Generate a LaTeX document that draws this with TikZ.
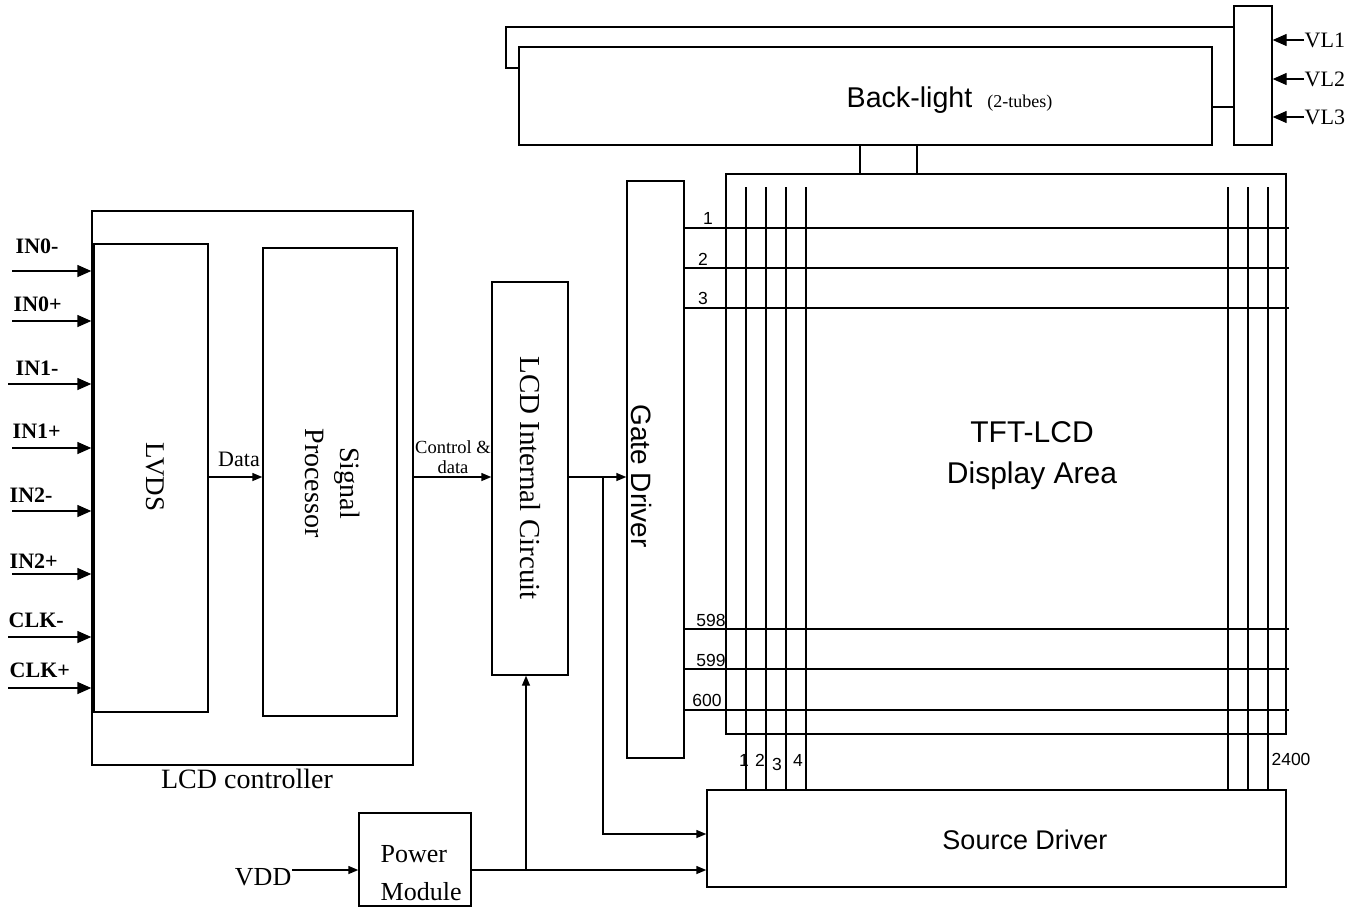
\documentclass[tikz,border=0pt]{standalone}
\usepackage{fontspec}
\setmainfont{Liberation Serif}
\setsansfont{Liberation Sans}
\usetikzlibrary{positioning, arrows.meta, fit}
\newcommand{\fsz}[2]{\fontsize{#1}{#2}\selectfont}

\begin{document}
\begin{tikzpicture}[
    x=0.5pt, y=-0.5pt,
    line width=0.7pt,
    block/.style={draw, inner sep=0pt, line width=0.7pt},
    sflbl/.style={font=\sffamily\fsz{14}{17}, inner sep=0pt, align=center},
    serlbl/.style={font=\fsz{14}{17.5}, inner sep=0pt, align=center},
    num/.style={font=\sffamily\fsz{8.75}{10}, inner sep=0pt},
    inlbl/.style={font=\bfseries\fsz{11}{13}, inner sep=0pt, anchor=base west},
    arr/.style={draw, -{Triangle[length=5pt,width=4pt]}},
    bigarr/.style={draw, -{Triangle[length=7pt,width=6pt]}},
]
\useasboundingbox (0,0) rectangle (1367,907);

% --- LCD controller ---
\node[block, fit={(92,211) (413,765)}] (ctrl) {};
\node[block, fit={(94,244) (208,712)}] (lvds) {};
\node[block, fit={(263,248) (397,716)}] (sigp) {};
\node[serlbl, rotate=-90, font=\fsz{13.5}{16}] (lvdstxt) at (155,477) {LVDS};
\node[serlbl, rotate=-90] (sigptxt) at (333,483) {Signal\\Processor};
\node[serlbl, anchor=base] (ctrltxt) at (247,788) {LCD controller};

% Inputs (left)
\foreach \name/\ay/\by/\lx/\sx in {IN0-/271/253/15/12, IN0+/321/311/13/12,
    IN1-/384/375/15/8, IN1+/448/438/12/12, IN2-/511/502/9/12,
    IN2+/574/568/9/12, CLK-/637/627/8/8, CLK+/688/677/9/8}{
  \coordinate (in\name) at (\sx,\ay);
  \node[inlbl] (lbl\name) at (\lx,\by) {\name};
  \draw[bigarr] (in\name) -- (ctrl.west |- in\name);
}

% --- Middle blocks ---
\coordinate (busy) at (0,477);
\node[block, fit={(492,282) (568,675)}] (lic) {};
\node[serlbl, rotate=-90, font=\fsz{14.5}{17}] (lictxt) at (530,478) {LCD Internal Circuit};
\node[block, fit={(627,181) (684,758)}] (gate) {};
\node[sflbl, rotate=-90] (gatetxt) at (642,476) {Gate Driver};

\draw[arr] (lvds.east |- busy) -- (sigp.west |- busy);
\node[serlbl, anchor=base, font=\fsz{11}{13}] (datatxt) at (239,466) {Data};
\draw[arr] (ctrl.east |- busy) -- (lic.west |- busy);
\node[serlbl, anchor=south, font=\fsz{9.25}{10}] (cdtxt) at (453,474) {Control \&\\data};
\draw[arr] (lic.east |- busy) -- (gate.west |- busy);

% --- Back-light ---
\node[block, fit={(519,47) (1212,145)}] (bl) {};
\node[block, fit={(1234,6) (1272,145)}] (vl) {};
\node[inner sep=0pt, anchor=base west] (bltxt) at (846,107)
  {{\sffamily\fsz{14.3}{17}Back-light}\hspace{7.5pt}{\fsz{9}{11}(2-tubes)}};
\draw (vl.west |- 0,27) -| (506,68) -- (bl.west |- 0,68);
\draw (bl.east |- 0,107) -- (vl.west |- 0,107);
\foreach \i/\y in {1/40, 2/79, 3/117}{
  \coordinate (vl\i) at (1304,\y);
  \draw[bigarr] (vl\i) -- (vl.east |- vl\i);
  \node[inner sep=0pt, anchor=west, font=\fsz{11}{13}] (vltxt\i) at (vl\i) {VL\i};
}

% --- TFT panel ---
\node[block, fit={(726,174) (1286,734)}] (panel) {};
\node[sflbl, font=\sffamily\fsz{15}{20.5}] (paneltxt) at (1032,456) {TFT-LCD\\Display Area};
\foreach \x in {860, 917}
  \draw (bl.south -| \x,0) -- (panel.north -| \x,0);

\node[block, fit={(707,790) (1286,887)}] (src) {};
\node[sflbl, font=\sffamily\fsz{13.5}{16}] (srctxt) at (1025,840) {Source Driver};

% gate lines
\foreach \y in {228, 268, 308, 629, 669, 710}
  \draw (gate.east |- 0,\y) -- ([xshift=1pt]panel.east |- 0,\y);
% source lines
\foreach \x in {746, 766, 786, 806, 1228, 1248, 1268}
  \draw ([yshift=-7pt]panel.north -| \x,0) -- (src.north -| \x,0);

\foreach \t/\px/\py in {1/708/218, 2/703/259, 3/703/298, 598/711/620,
    599/711/660, 600/707/700}
  \node[num] (g\t) at (\px,\py) {\t};
\foreach \t/\px/\py in {1/744/760, 2/760/760, 3/777/764, 4/798/760, 2400/1291/759}
  \node[num] (s\t) at (\px,\py) {\t};

% --- Power ---
\node[block, fit={(359,813) (471,906)}] (pwr) {};
\node[inner sep=0pt, anchor=north west, align=left, font=\fsz{13}{19}] (pwrtxt)
  at (380,845) {Power\\Module};
\coordinate (vdd) at (292,870);
\node[inner sep=0pt, anchor=base east, font=\fsz{13}{15}] (vddtxt) at (292,885) {VDD};
\draw[arr] (vdd) -- (pwr.west |- vdd);
\draw[arr] (pwr.east |- vdd) -- (src.west |- vdd);
\coordinate (ptap) at (526,870);
\draw[arr] (ptap) -- (lic.south -| ptap);
\coordinate (tap) at (603,477);
\draw[arr] (tap) |- (src.west |- 0,834);
\end{tikzpicture}
\end{document}
